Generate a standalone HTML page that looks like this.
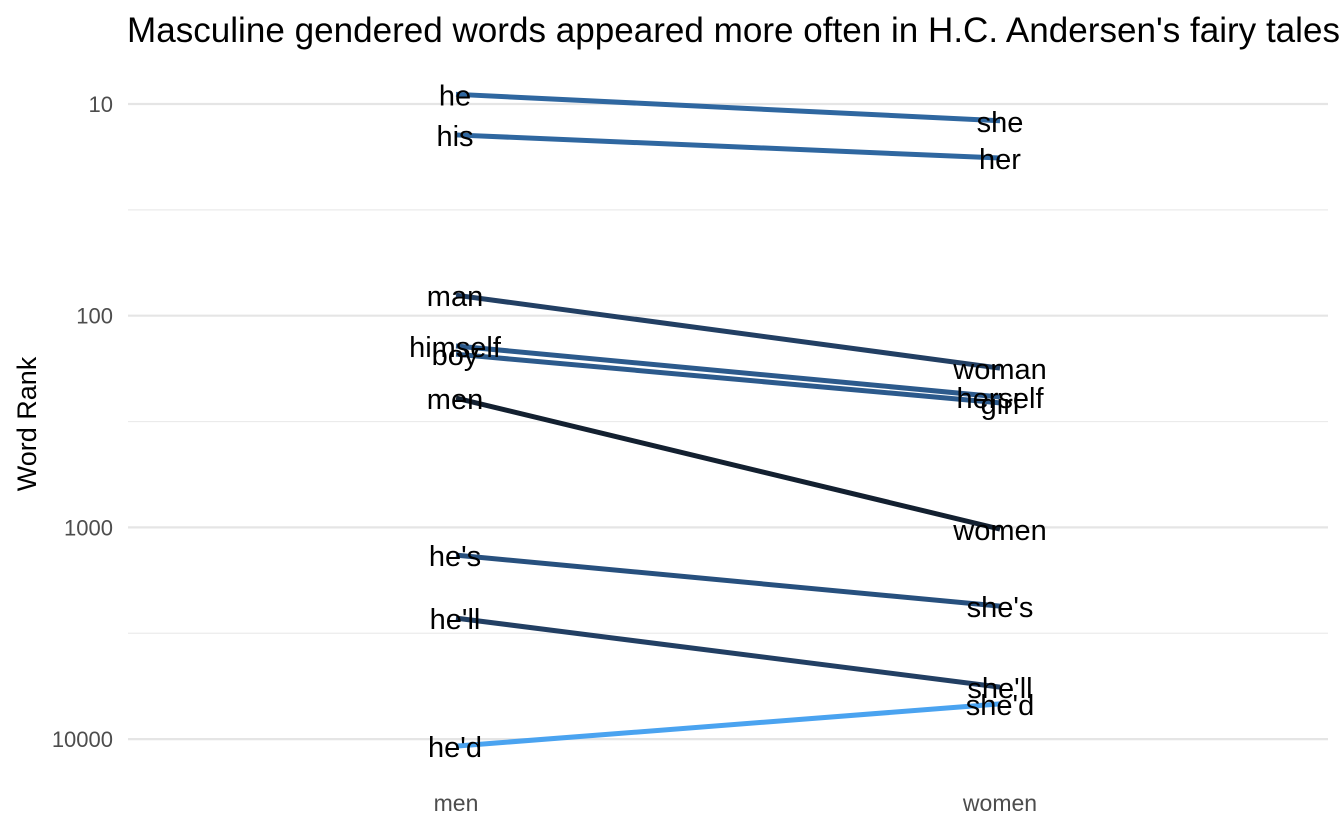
<!DOCTYPE html>
<html><head><meta charset="utf-8"><style>
html,body{margin:0;padding:0;background:#fff;}
svg{display:block;font-family:"Liberation Sans",Arial,sans-serif;}
</style></head><body>
<svg id="chart" width="1344" height="830">
<text x="127" y="42" font-size="35" fill="#000" textLength="1213" lengthAdjust="spacingAndGlyphs">Masculine gendered words appeared more often in H.C. Andersen's fairy tales</text>
<text transform="translate(36,424) rotate(-90)" text-anchor="middle" font-size="27" fill="#000">Word Rank</text>
<g id="grid"></g><g id="lines"></g><g id="labels"></g><g id="axes"></g>
</svg>
<script>
const maleWords = ["he","his","man","himself","boy","men","he's","he'll","he'd"];
const femaleWords = ["she","her","woman","herself","girl","women","she's","she'll","she'd"];
const maleRank = [9,14,80,139,152,245,1352,2682,10790];
const femaleRank = [12,18,177,242,258,1019,2355,5680,6820];
const pairColors = ["#2f67a0","#2f67a0","#223f63","#2c5a8c","#2c5a8c","#132030","#27507e","#223f63","#4aa3f0"];
const yTicks = [10,100,1000,10000];
const yMinor = [31.62,316.2,3162];
const xCats = ["men","women"];

const NS="http://www.w3.org/2000/svg";
function y(v){return 104 + (Math.log10(v)-1)*211.7;}
function x(i){return i===0?456:1000;}
function mk(tag,attrs,parent){const e=document.createElementNS(NS,tag);for(const k in attrs)e.setAttribute(k,attrs[k]);parent.appendChild(e);return e;}
const grid=document.getElementById('grid'),lines=document.getElementById('lines'),labels=document.getElementById('labels'),axes=document.getElementById('axes');
yMinor.forEach(v=>{const l=mk('line',{x1:128,x2:1328,y1:y(v),y2:y(v),stroke:'#ebebeb','stroke-width':1.2},grid);

});
yTicks.forEach(v=>{const l=mk('line',{x1:128,x2:1328,y1:y(v),y2:y(v),stroke:'#e5e5e5','stroke-width':2.2},grid);


const t=mk('text',{x:113,y:y(v)+8,'text-anchor':'end','font-size':22,fill:'#4d4d4d'},axes);t.textContent=v;

});
xCats.forEach((c,i)=>{const t=mk('text',{x:x(i),y:811,'text-anchor':'middle','font-size':23,fill:'#4d4d4d'},axes);t.textContent=c;

});
maleWords.forEach((w,i)=>{
const l=mk('line',{x1:x(0),y1:y(maleRank[i]),x2:x(1),y2:y(femaleRank[i]),stroke:pairColors[i],'stroke-width':5},lines);


const a=mk('text',{x:x(0)-1,y:y(maleRank[i])+11,'text-anchor':'middle','font-size':29,fill:'#000'},labels);a.textContent=w;


const b=mk('text',{x:x(1),y:y(femaleRank[i])+11,'text-anchor':'middle','font-size':29,fill:'#000'},labels);b.textContent=femaleWords[i];


});
</script>
</body></html>
